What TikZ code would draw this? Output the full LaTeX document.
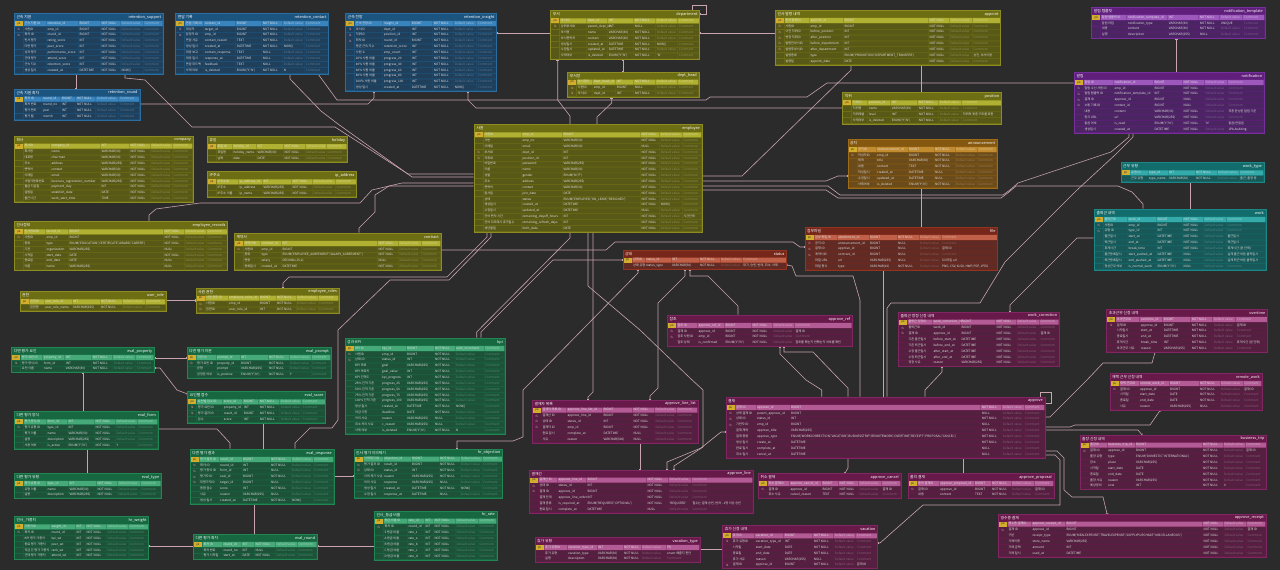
\documentclass[tikz,border=0pt]{standalone}
\usepackage{fontspec}
\newfontfamily\kr{Noto Sans CJK KR}
\usetikzlibrary{calc,fit,arrows.meta}
\pgfdeclarelayer{bgl}\pgfdeclarelayer{conn}\pgfdeclarelayer{tbg}
\pgfsetlayers{bgl,conn,tbg,main}
\definecolor{bgc}{HTML}{2B2B2B}
\definecolor{connc}{HTML}{C9A3AE}
\definecolor{rowtext}{HTML}{E2E2E2}
\definecolor{pkgold}{HTML}{D2AE2C}
\definecolor{fkpink}{HTML}{E595AC}
\definecolor{blueBG}{HTML}{1C5480}\definecolor{blueCL}{HTML}{203F5B}\definecolor{bluePK}{HTML}{3A84BD}\definecolor{blueLN}{HTML}{2B6D9E}\definecolor{bluePH}{HTML}{557A98}
\definecolor{oliveBG}{HTML}{6D6D13}\definecolor{oliveCL}{HTML}{595917}\definecolor{olivePK}{HTML}{B0B032}\definecolor{oliveLN}{HTML}{8C8C22}\definecolor{olivePH}{HTML}{8E8E4E}
\definecolor{orangeBG}{HTML}{85580F}\definecolor{orangeCL}{HTML}{6C4B1B}\definecolor{orangePK}{HTML}{C28B2F}\definecolor{orangeLN}{HTML}{9E6B18}\definecolor{orangePH}{HTML}{9E7E4E}
\definecolor{redBG}{HTML}{76271A}\definecolor{redCL}{HTML}{5F2B24}\definecolor{redPK}{HTML}{C06048}\definecolor{redLN}{HTML}{913522}\definecolor{redPH}{HTML}{935C52}
\definecolor{purpleBG}{HTML}{5F1F7B}\definecolor{purpleCL}{HTML}{4B2462}\definecolor{purplePK}{HTML}{9C58BB}\definecolor{purpleLN}{HTML}{76309E}\definecolor{purplePH}{HTML}{7F5C95}
\definecolor{tealBG}{HTML}{126C6C}\definecolor{tealCL}{HTML}{195858}\definecolor{tealPK}{HTML}{34AAAA}\definecolor{tealLN}{HTML}{1D8787}\definecolor{tealPH}{HTML}{4F8C8C}
\definecolor{greenBG}{HTML}{176741}\definecolor{greenCL}{HTML}{1D5239}\definecolor{greenPK}{HTML}{45A978}\definecolor{greenLN}{HTML}{228654}\definecolor{greenPH}{HTML}{4E8D6C}
\definecolor{magentaBG}{HTML}{67194A}\definecolor{magentaCL}{HTML}{53213F}\definecolor{magentaPK}{HTML}{B25B95}\definecolor{magentaLN}{HTML}{812662}\definecolor{magentaPH}{HTML}{8E5C7A}
\tikzset{
 ttl/.style={inner sep=0pt, text=white, font=\kr\fontsize{3.8}{4.2}\selectfont},
 txt/.style={inner sep=0pt, text=rowtext, text height=2.3pt, text depth=0.6pt, font=\kr\fontsize{3.1}{3.5}\selectfont},
 keyt/.style={inner sep=0pt, text=black!80, font=\kr\fontsize{2.8}{3}\selectfont},
 fkt/.style={inner sep=0pt, text=fkpink, font=\kr\fontsize{2.8}{3}\selectfont},
 conn/.style={draw=connc, line width=0.6pt, arrows={Bar[width=2.6pt,line width=0.5pt]-Bar[width=2.6pt,line width=0.5pt]}},
}
\def\pkk{P}\def\fkk{F}
\def\NN{NOT NULL}\def\NL{NULL}
\newcommand\ADDX[3]{\pgfmathsetmacro\tmpa{#2+#3}\xdef#1{\tmpa}}
\def\PARSEW#1,#2,#3,#4,#5,#6\relax{%
 \ADDX\Xa{\Tx}{9}\ADDX\Xb{\Xa}{#1}\ADDX\Xc{\Xb}{#2}\ADDX\Xd{\Xc}{#3}%
 \ADDX\Xe{\Xd}{#4}\ADDX\Xf{\Xe}{#5}\ADDX\Xg{\Xf}{#6}}
\newcommand\PH[2]{\if\relax\detokenize{#1}\relax\textcolor{PHC}{#2}\else #1\fi}
\newcommand\TBL[7]{%
 \xdef\Tx{#2}\xdef\Ty{#3}\xdef\Tn{#7}%
 \colorlet{CBG}{#1BG}\colorlet{CCL}{#1CL}\colorlet{CPK}{#1PK}\colorlet{CLN}{#1LN}\colorlet{CPH}{#1PH}%
 \PARSEW#4\relax
 \ADDX\Cy{#3}{7.2}%
 \node[ttl,anchor=west] at (\Tx+2,\Ty+3.7) {#5};
 \node[ttl,anchor=east] at (\Xg-2,\Ty+3.7) {#6};
}
\newcommand\ROW[7]{%
 \pgfmathsetmacro\Ny{\Cy+5.85}%
 \pgfmathsetmacro\My{\Cy+2.925}%
 \def\rk{#1}%
 \ifx\rk\pkk\colorlet{CC}{CPK}\colorlet{PHC}{CPK!50!white}\else\colorlet{CC}{CCL}\colorlet{PHC}{CPH}\fi
 \fill[CC] (\Xa+0.25,\Cy+0.35) rectangle (\Xb-0.25,\Ny-0.35)
   (\Xb+0.25,\Cy+0.35) rectangle (\Xc-0.25,\Ny-0.35)
   (\Xc+0.25,\Cy+0.35) rectangle (\Xd-0.25,\Ny-0.35)
   (\Xd+0.25,\Cy+0.35) rectangle (\Xe-0.25,\Ny-0.35)
   (\Xe+0.25,\Cy+0.35) rectangle (\Xf-0.25,\Ny-0.35)
   (\Xf+0.25,\Cy+0.35) rectangle (\Xg-0.6,\Ny-0.35);
 \ifx\rk\pkk
   \fill[pkgold] (\Tx+0.6,\Cy+0.35) rectangle (\Xa-0.25,\Ny-0.35);
   \node[keyt] at (\Tx+4.6,\My) {pk};
 \else
   \fill[CC] (\Tx+0.6,\Cy+0.35) rectangle (\Xa-0.25,\Ny-0.35);
   \ifx\rk\fkk \node[fkt] at (\Tx+4.6,\My) {fk};\fi
 \fi
 \node[txt,anchor=west] at (\Xa+1,\My) {#2};
 \node[txt,anchor=west] at (\Xb+1,\My) {#3};
 \node[txt,anchor=west] at (\Xc+1,\My) {#4};
 \node[txt,anchor=west] at (\Xd+1,\My) {#5};
 \node[txt,anchor=west] at (\Xe+1,\My) {\PH{#6}{Default value}};
 \node[txt,anchor=west] at (\Xf+1,\My) {\PH{#7}{Comment}};
 \xdef\Cy{\Ny}%
}
\newcommand\TEND{%
 \pgfmathsetmacro\Ny{\Cy+0.6}%
 \begin{pgfonlayer}{tbg}\fill[CBG] (\Tx,\Ty) rectangle (\Xg,\Ny);\end{pgfonlayer}
 \draw[CLN,line width=0.5pt] (\Tx,\Ty) rectangle (\Xg,\Ny);
 \coordinate (\Tn-nw) at (\Tx,\Ty);
 \coordinate (\Tn-se) at (\Xg,\Ny);
 \node[fit=(\Tn-nw)(\Tn-se),inner sep=0pt] (\Tn) {};
}
\begin{document}
\catcode`\_=12
\begin{tikzpicture}[x=1pt,y=-1pt]
\useasboundingbox (0,0) rectangle (1280,570);
\begin{pgfonlayer}{bgl}\fill[bgc] (0,0) rectangle (1280,570);\end{pgfonlayer}
% ---------------- blue
\TBL{blue}{14.3}{13.3}{23,32,22,20,23,20}{근속 지원}{retention_support}{rs}
\ROW{P}{근속 지원 ID}{retention_id}{BIGINT}{\NN}{}{}
\ROW{F}{사원ID}{emp_id}{BIGINT}{\NN}{}{}
\ROW{F}{회차 ID}{round_id}{BIGINT}{\NN}{}{}
\ROW{}{인사 평가}{rating_score}{INT}{\NN}{}{}
\ROW{}{다면 평가}{peer_score}{INT}{\NN}{}{}
\ROW{}{성과 평가}{performance_score}{INT}{\NN}{}{}
\ROW{}{근태 평가}{attend_score}{INT}{\NN}{}{}
\ROW{}{근속 지수}{retention_score}{INT}{\NN}{}{}
\ROW{}{생성 일시}{created_at}{DATETIME}{\NN}{NOW()}{}
\TEND
\TBL{blue}{175.7}{13.3}{19,32,26,21,22,24}{면담 기록}{retention_contact}{rc}
\ROW{P}{면담 기록 ID}{contact_id}{BIGINT}{\NN}{}{}
\ROW{F}{대상자}{target_id}{BIGINT}{\NN}{}{}
\ROW{F}{담당자 ID}{emp_id}{BIGINT}{\NN}{}{}
\ROW{}{면담 사유}{contact_reason}{TEXT}{\NN}{}{}
\ROW{}{생성 일시}{created_at}{DATETIME}{\NN}{NOW()}{}
\ROW{}{대응 보고}{contact_response}{TEXT}{\NL}{}{}
\ROW{}{대응 일시}{response_at}{DATETIME}{\NL}{}{}
\ROW{}{면담 피드백}{feedback}{TEXT}{\NL}{}{}
\ROW{}{삭제 여부}{is_deleted}{ENUM('Y','N')}{\NN}{N}{}
\TEND
\TBL{blue}{345.7}{13.3}{28,28,22,21,23,20}{근속 전망}{retention_insight}{ri}
\ROW{P}{근속 전망 ID}{insight_id}{BIGINT}{\NN}{}{}
\ROW{F}{부서ID}{dept_id}{INT}{\NN}{}{}
\ROW{F}{직위ID}{position_id}{INT}{\NN}{}{}
\ROW{F}{회차 ID}{round_id}{BIGINT}{\NN}{}{}
\ROW{}{평균 근속 지수}{retention_score}{INT}{\NN}{}{}
\ROW{}{사원 수}{emp_count}{INT}{\NN}{}{}
\ROW{}{20\% 사원 비율}{progress_20}{INT}{\NN}{}{}
\ROW{}{40\% 사원 비율}{progress_40}{INT}{\NN}{}{}
\ROW{}{60\% 사원 비율}{progress_60}{INT}{\NN}{}{}
\ROW{}{80\% 사원 비율}{progress_80}{INT}{\NN}{}{}
\ROW{}{100\% 사원 비율}{progress_100}{INT}{\NN}{}{}
\ROW{}{생성 일시}{created_at}{DATETIME}{\NN}{NOW()}{}
\TEND
\TBL{blue}{14.3}{89}{18.5,19,15,20,23,21}{근속 지원 회차}{retention_round}{rr}
\ROW{P}{회차 ID}{round_id}{BIGINT}{\NN}{}{}
\ROW{}{회차 번호}{round_no}{INT}{\NN}{}{}
\ROW{}{평가 연도}{year}{INT}{\NN}{}{}
\ROW{}{평가 월}{month}{INT}{\NN}{}{}
\TEND
% ---------------- olive
\TBL{olive}{14.3}{136}{27,50,29,21,22,20.7}{회사}{company}{co}
\ROW{P}{회사ID}{company_id}{INT}{\NN}{}{}
\ROW{}{회사명}{name}{VARCHAR(30)}{\NN}{}{}
\ROW{}{대표명}{chairman}{VARCHAR(30)}{\NN}{}{}
\ROW{}{주소}{address}{VARCHAR(255)}{\NN}{}{}
\ROW{}{연락처}{contact}{VARCHAR(30)}{\NN}{}{}
\ROW{}{이메일}{email}{VARCHAR(30)}{\NN}{}{}
\ROW{}{사업자등록번호}{business_registration_number}{VARCHAR(255)}{\NN}{}{}
\ROW{}{월급 지급일}{payment_day}{INT}{\NN}{}{}
\ROW{}{설립일}{establish_date}{DATE}{\NN}{}{}
\ROW{}{출근시간}{work_start_time}{TIME}{\NN}{}{}
\TEND
\TBL{olive}{207.3}{136.5}{16,24,27,22,21,21}{휴일}{holiday}{ho}
\ROW{P}{휴일 ID}{holiday_id}{INT}{\NN}{}{}
\ROW{}{휴일명}{holiday_name}{VARCHAR(30)}{\NN}{}{}
\ROW{}{날짜}{date}{DATE}{\NN}{}{}
\TEND
\TBL{olive}{207.3}{171.7}{22,24,29,21,23,21.4}{IP주소}{ip_address}{ip}
\ROW{P}{IP주소ID}{ip_address_id}{INT}{\NN}{}{}
\ROW{}{IP주소}{ip_address}{VARCHAR(255)}{\NN}{}{}
\ROW{}{IP주소 이름}{ip_name}{VARCHAR(255)}{\NN}{}{}
\TEND
\TBL{olive}{14.3}{221.7}{22,23,95,21,22,21.4}{인사정보}{employee_records}{er}
\ROW{P}{인사정보ID}{record_id}{BIGINT}{\NN}{}{}
\ROW{F}{사원ID}{emp_id}{BIGINT}{\NN}{}{}
\ROW{}{종류}{type}{ENUM('EDUCATION','CERTIFICATE','AWARD','CAREER')}{\NN}{}{}
\ROW{}{기관}{organization}{VARCHAR(255)}{\NL}{}{}
\ROW{}{시작일}{start_date}{DATE}{\NN}{}{}
\ROW{}{종료일}{end_date}{DATE}{\NL}{}{}
\ROW{}{이름}{name}{VARCHAR(255)}{\NL}{}{}
\TEND
\TBL{olive}{234.3}{233.3}{17,21,96,21,23,19.7}{계약서}{contract}{ct}
\ROW{P}{계약서ID}{contract_id}{INT}{\NN}{}{}
\ROW{F}{사원ID}{emp_id}{BIGINT}{\NN}{}{}
\ROW{}{종류}{type}{ENUM('EMPLOYEE_AGREEMENT','SALARY_AGREEMENT')}{\NN}{}{}
\ROW{}{연봉}{salary}{DECIMAL(15,2)}{\NL}{}{}
\ROW{}{등록일시}{created_at}{DATETIME}{\NN}{}{}
\TEND
\TBL{olive}{20}{291.7}{15,28,28,22,23,21}{권한}{user_role}{ur}
\ROW{P}{권한ID}{user_role_id}{INT}{\NN}{}{}
\ROW{}{권한명}{user_role_name}{VARCHAR(255)}{\NN}{}{}
\TEND
\TBL{olive}{196}{288}{23,31,17,20,22,21}{사원 권한}{employee_roles}{eo}
\ROW{P}{사원 권한 ID}{employee_roles_id}{BIGINT}{\NN}{}{}
\ROW{F}{사원ID}{emp_id}{BIGINT}{\NN}{}{}
\ROW{F}{권한ID}{user_role_id}{INT}{\NN}{}{}
\TEND
\TBL{olive}{550.7}{10.7}{27,21,26,22,22,22}{부서}{department}{de}
\ROW{P}{부서ID}{dept_id}{INT}{\NN}{}{}
\ROW{F}{상위부서ID}{parent_dept_id}{INT}{\NL}{}{}
\ROW{}{부서명}{name}{VARCHAR(30)}{\NN}{}{}
\ROW{}{부서연락처}{contact}{VARCHAR(30)}{\NN}{}{}
\ROW{}{생성일시}{created_at}{DATETIME}{\NN}{NOW()}{}
\ROW{}{수정일시}{updated_at}{DATETIME}{\NN}{}{}
\ROW{}{삭제여부}{is_deleted}{ENUM('Y','N')}{\NN}{'N'}{}
\TEND
\TBL{olive}{567.7}{72}{16,23,18,22,22,21.3}{부서장}{dept_head}{dh}
\ROW{P}{부서장ID}{dept_head_id}{INT}{\NN}{}{}
\ROW{F}{사원ID}{emp_id}{BIGINT}{\NL}{}{}
\ROW{F}{부서ID}{dept_id}{INT}{\NN}{}{}
\TEND
\TBL{olive}{775.3}{10.3}{25,34,85,21,23,28.4}{인사 발령 내역}{appoint}{ap}
\ROW{P}{인사 발령ID}{appoint_id}{BIGINT}{\NN}{}{}
\ROW{F}{사원ID}{emp_id}{BIGINT}{\NN}{}{}
\ROW{F}{이전 직위ID}{before_position}{INT}{\NN}{}{}
\ROW{F}{변경 직위ID}{after_position}{INT}{\NN}{}{}
\ROW{F}{발령전부서ID}{before_department}{INT}{\NN}{}{}
\ROW{F}{발령후부서ID}{after_department}{INT}{\NN}{}{}
\ROW{}{발령종류}{type}{ENUM('PROMOTION','DEPARTMENT_TRANSFER')}{\NN}{}{승진, 부서이동}
\ROW{}{발령일}{appoint_date}{DATE}{\NN}{}{}
\TEND
\TBL{olive}{842.7}{92.7}{16,23,27,21,23,39.7}{직위}{position}{po}
\ROW{P}{직위ID}{position_id}{INT}{\NN}{}{}
\ROW{}{직위명}{name}{VARCHAR(30)}{\NN}{}{}
\ROW{}{직위레벨}{level}{INT}{\NN}{}{직위의 계층 구조를 표현}
\ROW{}{삭제여부}{is_deleted}{ENUM('Y','N')}{\NN}{}{}
\TEND
\TBL{olive}{474.3}{124.7}{38,41,78,19.3,22.7,19.7}{사원}{employee}{em}
\ROW{P}{사원ID}{emp_id}{BIGINT}{\NN}{}{}
\ROW{}{사번}{emp_no}{VARCHAR(30)}{\NN}{}{}
\ROW{}{이메일}{email}{VARCHAR(30)}{\NL}{}{}
\ROW{F}{부서ID}{dept_id}{INT}{\NN}{}{}
\ROW{F}{직위ID}{position_id}{INT}{\NN}{}{}
\ROW{}{비밀번호}{password}{VARCHAR(255)}{\NN}{}{}
\ROW{}{이름}{name}{VARCHAR(30)}{\NN}{}{}
\ROW{}{성별}{gender}{ENUM('M','F')}{\NN}{}{}
\ROW{}{주소}{address}{VARCHAR(255)}{\NN}{}{}
\ROW{}{연락처}{contact}{VARCHAR(30)}{\NN}{}{}
\ROW{}{입사일}{join_date}{DATE}{\NN}{}{}
\ROW{}{상태}{status}{ENUM('EMPLOYED','ON_LEAVE','RESIGNED')}{\NN}{}{}
\ROW{}{생성일시}{created_at}{DATETIME}{\NN}{NOW()}{}
\ROW{}{수정일시}{updated_at}{DATETIME}{\NL}{}{}
\ROW{}{잔여 연차 시간}{remaining_dayoff_hours}{INT}{\NN}{}{시간단위}
\ROW{}{잔여 리프레시 휴가일수}{remaining_refresh_days}{INT}{\NN}{}{}
\ROW{}{생년월일}{birth_date}{DATE}{\NN}{}{}
\TEND
% ---------------- orange / red
\TBL{orange}{848}{139.3}{19,32,26,21,22.3,20}{공지}{announcement}{an}
\ROW{P}{공지ID}{announcement_id}{BIGINT}{\NN}{}{}
\ROW{F}{작성자ID}{emp_id}{BIGINT}{\NN}{}{}
\ROW{}{제목}{title}{VARCHAR(30)}{\NN}{}{}
\ROW{}{내용}{content}{TEXT}{\NN}{}{}
\ROW{}{작성일시}{created_at}{DATETIME}{\NL}{}{}
\ROW{}{수정일시}{updated_at}{DATETIME}{\NL}{}{}
\ROW{}{삭제여부}{is_deleted}{ENUM('Y','N')}{\NN}{}{}
\TEND
\TBL{red}{805}{227.3}{23,32,28,22,22,56.7}{첨부파일}{file}{fi}
\ROW{P}{첨부 파일 ID}{attachment_id}{BIGINT}{\NN}{}{}
\ROW{F}{공지 ID}{announcement_id}{BIGINT}{\NL}{}{}
\ROW{F}{결재 ID}{approve_id}{BIGINT}{\NL}{}{결재 ID}
\ROW{F}{계약서ID}{contract_id}{BIGINT}{\NL}{}{}
\ROW{}{파일 URL}{url}{VARCHAR(255)}{\NL}{}{S3 파일 url}
\ROW{}{파일 형식}{type}{VARCHAR(10)}{\NN}{}{PNG, CSV, XLSX, HWP, PDF, JPEG}
\TEND
\TBL{red}{623}{250}{13,26,28,21,22,44.7}{상태}{status}{st}
\ROW{P}{상태ID}{status_id}{INT}{\NN}{}{}
\ROW{}{상태 유형}{status_type}{VARCHAR(30)}{\NN}{}{대기, 승인, 반려, 취소, 삭제}
\TEND
% ---------------- purple / teal
\TBL{purple}{1091.7}{7.3}{26,41,31,21,23,22.3}{알림 템플릿}{notification_template}{nt}
\ROW{P}{알림 템플릿 ID}{notification_template_id}{INT}{\NN}{}{}
\ROW{}{알림 타입}{notification_type}{VARCHAR(30)}{\NN}{UNIQUE}{}
\ROW{}{내용}{content}{VARCHAR(30)}{\NN}{}{}
\ROW{}{설명}{description}{VARCHAR(255)}{\NL}{}{}
\TEND
\TBL{purple}{1074.3}{72.3}{30,40,29,22,23,37}{알림}{notification}{no}
\ROW{P}{알림 ID}{notification_id}{BIGINT}{\NN}{}{}
\ROW{F}{알림 수신 사원 ID}{emp_id}{BIGINT}{\NN}{}{}
\ROW{F}{알림 템플릿 ID}{notification_template_id}{INT}{\NN}{}{}
\ROW{F}{결재 ID}{approve_id}{BIGINT}{\NL}{}{}
\ROW{F}{소통 기록 ID}{contact_id}{BIGINT}{\NL}{}{}
\ROW{}{내용}{content}{VARCHAR(30)}{\NN}{}{최종 완성된 알림 기준}
\ROW{}{링크 URL}{url}{VARCHAR(255)}{\NN}{}{}
\ROW{}{읽음 여부}{is_read}{ENUM('Y','N')}{\NN}{'N'}{읽음/안읽음}
\ROW{}{생성일시}{created_at}{DATETIME}{\NN}{}{JPA Auditing}
\TEND
\TBL{teal}{1121}{162.7}{18,20,27,22,22,25}{근무 유형}{work_type}{wt}
\ROW{P}{유형 ID}{type_id}{INT}{\NN}{}{}
\ROW{}{근무 유형}{type_name}{VARCHAR(30)}{\NN}{}{출근, 출장 등}
\TEND
\TBL{teal}{1094.3}{209.3}{24,29,26,21,23,39.7}{출퇴근 내역}{work}{wk}
\ROW{P}{출퇴근ID}{work_id}{BIGINT}{\NN}{}{}
\ROW{F}{사원ID}{emp_id}{BIGINT}{\NN}{}{}
\ROW{F}{유형 ID}{type_id}{INT}{\NN}{}{}
\ROW{}{출근일시}{start_at}{DATETIME}{\NN}{}{출근일시}
\ROW{}{퇴근일시}{end_at}{DATETIME}{\NN}{}{퇴근일시}
\ROW{}{휴게시간}{break_time}{INT}{\NN}{}{휴게시간 (분 단위)}
\ROW{}{출근등록일시}{start_pushed_at}{DATETIME}{\NL}{}{실제 출근 버튼 클릭일시}
\ROW{}{퇴근등록일시}{end_pushed_at}{DATETIME}{\NL}{}{실제 퇴근 버튼 클릭일시}
\ROW{}{정상근무 여부}{is_normal_work}{ENUM('Y','N')}{\NL}{}{}
\TEND
% ---------------- magenta
\TBL{magenta}{667.3}{315.3}{21,27,27,21,22,58}{참조}{approve_ref}{ar}
\ROW{P}{참조 ID}{approve_ref_id}{BIGINT}{\NN}{}{}
\ROW{F}{결재 ID}{approve_id}{BIGINT}{\NN}{}{결재 ID}
\ROW{F}{참조 사원 ID}{emp_id}{BIGINT}{\NN}{}{}
\ROW{}{참조 상태}{is_confirmed}{ENUM('Y','N')}{\NN}{}{참조를 했는지 안했는지 여부를 확인}
\TEND
\TBL{magenta}{898.3}{312}{25,28,35,21,23,20}{출퇴근 정정 신청 내역}{work_correction}{wc}
\ROW{P}{출퇴근 정정ID}{work_correction_id}{BIGINT}{\NN}{}{}
\ROW{F}{출퇴근ID}{work_id}{BIGINT}{\NN}{}{}
\ROW{F}{결재 ID}{approve_id}{BIGINT}{\NN}{}{결재 ID}
\ROW{}{기존 출근일시}{before_start_at}{DATETIME}{\NN}{}{}
\ROW{}{기존 퇴근일시}{before_end_at}{DATETIME}{\NN}{}{}
\ROW{}{수정 출근일시}{after_start_at}{DATETIME}{\NN}{}{}
\ROW{}{수정 퇴근일시}{after_end_at}{DATETIME}{\NN}{}{}
\ROW{}{정정 사유}{reason}{VARCHAR(255)}{\NN}{}{}
\TEND
\TBL{magenta}{1106.7}{309.3}{24,23,28,22,23,31.7}{초과근무 신청 내역}{overtime}{ov}
\ROW{P}{초과근무ID}{overtime_id}{BIGINT}{\NN}{}{}
\ROW{F}{결재 ID}{approve_id}{BIGINT}{\NN}{}{결재 ID}
\ROW{}{시작일시}{start_at}{DATETIME}{\NN}{}{}
\ROW{}{종료일시}{end_at}{DATETIME}{\NN}{}{}
\ROW{}{휴게시간}{break_time}{INT}{\NN}{}{휴게시간 (분 단위)}
\ROW{}{초과근무 사유}{reason}{VARCHAR(255)}{\NN}{}{}
\TEND
\TBL{magenta}{1110}{373.3}{20,30,30,21,23,19}{재택 근무 신청 내역}{remote_work}{rw}
\ROW{P}{재택 근무ID}{remote_work_id}{BIGINT}{\NN}{}{}
\ROW{F}{결재 ID}{approve_id}{BIGINT}{\NN}{}{결재 ID}
\ROW{}{시작일}{start_date}{DATE}{\NN}{}{}
\ROW{}{종료일}{end_date}{DATE}{\NN}{}{}
\ROW{}{사유}{reason}{VARCHAR(255)}{\NL}{}{}
\TEND
\TBL{magenta}{1080}{435}{18,28,67,21,22,21.7}{출장 신청 내역}{business_trip}{bt}
\ROW{P}{출장ID}{business_trip_id}{BIGINT}{\NN}{}{}
\ROW{F}{결재 ID}{approve_id}{BIGINT}{\NN}{}{결재 ID}
\ROW{}{출장 유형}{type}{ENUM('DOMESTIC','INTERNATIONAL')}{\NN}{}{}
\ROW{}{장소}{place}{VARCHAR(255)}{\NN}{}{}
\ROW{}{시작일}{start_date}{DATE}{\NN}{}{}
\ROW{}{종료일}{end_date}{DATE}{\NN}{}{}
\ROW{}{출장 사유}{reason}{VARCHAR(255)}{\NN}{}{}
\ROW{}{예상경비}{cost}{INT}{\NN}{0}{}
\TEND
\TBL{magenta}{998.3}{514}{24,34,137,21,23,19.7}{영수증 결재}{approve_receipt}{rp}
\ROW{P}{영수증 결재ID}{approve_receipt_id}{BIGINT}{\NN}{}{}
\ROW{F}{결재 ID}{approve_id}{BIGINT}{\NN}{}{결재 ID}
\ROW{}{구분}{receipt_type}{ENUM('MEALEXPENSE','TRAVELEXPENSE','SUPPLYPURCHASE','MISCELLANEOUS')}{\NN}{}{}
\ROW{}{거래처명}{store_name}{VARCHAR(255)}{\NN}{}{}
\ROW{}{거래 금액}{amount}{INT}{\NN}{}{}
\ROW{}{거래 일시}{used_at}{DATETIME}{\NN}{}{}
\TEND
\TBL{magenta}{726}{397.3}{21,34,190.7,21,22.3,21}{결재}{approve}{av}
\ROW{P}{결재 ID}{approve_id}{BIGINT}{\NN}{}{}
\ROW{F}{상위 결재 ID}{parent_approve_id}{BIGINT}{\NL}{}{}
\ROW{F}{상태 ID}{status_id}{INT}{\NN}{}{}
\ROW{F}{기안자 ID}{emp_id}{BIGINT}{\NL}{}{}
\ROW{}{결재 제목}{approve_title}{VARCHAR(255)}{\NN}{}{}
\ROW{}{결재 종류}{approve_type}{ENUM('WORKCORRECTION','VACATION','BUSINESSTRIP','REMOTEWORK','OVERTIME','RECEIPT','PROPOSAL','CANCEL')}{\NN}{}{}
\ROW{}{생성 일시}{create_at}{DATETIME}{\NN}{}{}
\ROW{}{완료 일시}{complete_at}{DATETIME}{\NL}{}{}
\ROW{}{취소 일시}{cancel_at}{DATETIME}{\NL}{}{}
\TEND
\TBL{magenta}{758.3}{473.3}{22,32,17,20,23,19.7}{취소 결재}{approve_cancel}{ac}
\ROW{P}{취소 결재ID}{approve_cancel_id}{BIGINT}{\NN}{}{}
\ROW{F}{결재 ID}{approve_id}{BIGINT}{\NN}{}{결재 ID}
\ROW{}{취소 사유}{cancel_reason}{TEXT}{\NN}{}{}
\TEND
\TBL{magenta}{908}{473.3}{22,35,17,20,23,20}{품의 결재}{approve_proposal}{pp}
\ROW{P}{품의 결재ID}{approve_proposal_id}{BIGINT}{\NN}{}{}
\ROW{F}{결재 ID}{approve_id}{BIGINT}{\NN}{}{결재 ID}
\ROW{}{내용}{content}{TEXT}{\NN}{}{}
\TEND
\TBL{magenta}{532.3}{400}{25,36,30,22,22,21.7}{결재자 목록}{approve_line_list}{al}
\ROW{P}{결재자 목록 ID}{approve_line_list_id}{BIGINT}{\NN}{}{}
\ROW{F}{결재선 ID}{approve_line_id}{BIGINT}{\NN}{}{}
\ROW{F}{상태 ID}{status_id}{INT}{\NN}{}{}
\ROW{F}{결재자 ID}{emp_id}{BIGINT}{\NN}{}{}
\ROW{}{완료 일시}{complete_at}{DATETIME}{\NL}{}{}
\ROW{}{사유}{reason}{VARCHAR(500)}{\NL}{}{}
\TEND
\TBL{magenta}{529.3}{470}{19,29,60,22,23,61.7}{결재선}{approve_line}{ln}
\ROW{P}{결재선 ID}{approve_line_id}{BIGINT}{\NN}{}{}
\ROW{F}{상태 ID}{status_id}{INT}{\NN}{}{}
\ROW{F}{결재 ID}{approve_id}{BIGINT}{\NN}{}{}
\ROW{}{결재 단계}{approve_line_order}{INT}{\NN}{}{}
\ROW{}{결재 종류}{is_required_at}{ENUM('REQUIRED','OPTIONAL')}{\NN}{'REQUIRED'}{필수는 결재 승인, 반려 - 1명 이상 승인}
\ROW{}{완료 일시}{complete_at}{DATETIME}{\NL}{}{}
\TEND
\TBL{magenta}{535}{537.3}{23,30,26,18,25,34}{휴가 유형}{vacation_type}{vt}
\ROW{P}{휴가 유형ID}{vacation_type_id}{INT}{\NN}{}{PK}
\ROW{}{휴가 유형}{vacation_type}{VARCHAR(30)}{\NN}{}{enum 해줄지 판단}
\ROW{}{설명}{description}{VARCHAR(30)}{\NN}{}{}
\TEND
\TBL{magenta}{722.7}{525.7}{23,29,29,21,22,22}{휴가 신청 내역}{vacation}{va}
\ROW{P}{휴가ID}{vacation_id}{BIGINT}{\NN}{}{}
\ROW{F}{휴가 유형ID}{vacation_type_id}{INT}{\NN}{}{}
\ROW{}{시작일}{start_date}{DATE}{\NN}{}{}
\ROW{}{종료일}{end_date}{DATE}{\NN}{}{}
\ROW{}{휴가 사유}{reason}{VARCHAR(255)}{\NL}{}{}
\ROW{F}{결재 ID}{approve_id}{BIGINT}{\NN}{}{결재 ID}
\TEND
% ---------------- green
\TBL{green}{345}{338.3}{27,25,28,21,29,21}{성과 KPI}{kpi}{kp}
\ROW{P}{KPI ID}{kpi_id}{BIGINT}{\NN}{auto_increment}{}
\ROW{F}{사원ID}{emp_id}{BIGINT}{\NN}{}{}
\ROW{F}{상태 ID}{status_id}{INT}{\NN}{}{}
\ROW{}{KPI 목표}{goal}{VARCHAR(255)}{\NN}{}{}
\ROW{}{KPI 목표치}{goal_value}{INT}{\NN}{}{}
\ROW{}{KPI 진척도}{kpi_progress}{INT}{\NN}{}{}
\ROW{}{25\% 진척 기준}{progress_25}{VARCHAR(255)}{\NN}{}{}
\ROW{}{50\% 진척 기준}{progress_50}{VARCHAR(255)}{\NN}{}{}
\ROW{}{75\% 진척 기준}{progress_75}{VARCHAR(255)}{\NN}{}{}
\ROW{}{100\% 진척 기준}{progress_100}{VARCHAR(255)}{\NN}{}{}
\ROW{}{생성 일시}{created_at}{DATETIME}{\NN}{NOW()}{}
\ROW{}{마감 기한}{deadline}{DATE}{\NN}{}{}
\ROW{}{처리 사유}{reason}{VARCHAR(255)}{\NL}{}{}
\ROW{}{취소 처리 사유}{c_reason}{VARCHAR(255)}{\NL}{}{}
\ROW{}{삭제 여부}{is_deleted}{ENUM('Y','N')}{\NN}{N}{}
\TEND
\TBL{green}{11.7}{347.3}{22,22,27,21,23,18.6}{다면 평가 요인}{eval_property}{ep}
\ROW{P}{평가 요인 ID}{property_id}{INT}{\NN}{}{}
\ROW{F}{평가 양식 ID}{form_id}{INT}{\NN}{}{}
\ROW{}{요인 이름}{name}{VARCHAR(30)}{\NN}{}{}
\TEND
\TBL{green}{187}{347.3}{20,24,28,21,22,20}{다면 평가 지문}{eval_prompt}{eq}
\ROW{P}{지문 ID}{prompt_id}{INT}{\NN}{}{}
\ROW{F}{평가 요인 ID}{property_id}{BIGINT}{\NN}{}{}
\ROW{}{문항}{prompt}{VARCHAR(255)}{\NN}{}{}
\ROW{}{긍정문 여부}{is_positive}{ENUM('Y','N')}{\NN}{Y}{}
\TEND
\TBL{green}{187.7}{391.7}{26,20,16,21,22,24}{요인별 점수}{eval_score}{es}
\ROW{P}{요인별 점수 ID}{score_id}{BIGINT}{\NN}{}{}
\ROW{F}{평가 요인 ID}{property_id}{INT}{\NN}{}{}
\ROW{F}{평가 결과 ID}{result_id}{BIGINT}{\NN}{}{}
\ROW{}{점수}{score}{INT}{\NN}{}{}
\TEND
\TBL{green}{14.3}{411.7}{23,21,27,21,22,20.7}{다면 평가 양식}{eval_form}{ef}
\ROW{P}{평가 양식 ID}{form_id}{INT}{\NN}{}{}
\ROW{F}{평가 유형 ID}{type_id}{INT}{\NN}{}{}
\ROW{}{평가 이름}{name}{VARCHAR(30)}{\NN}{}{}
\ROW{}{설명}{description}{VARCHAR(255)}{\NN}{}{}
\ROW{}{사용 여부}{is_active}{ENUM('Y','N')}{\NN}{Y}{}
\TEND
\TBL{green}{14.3}{473.3}{23,22,28,21,23,21}{다면 평가 유형}{eval_type}{et}
\ROW{P}{평가 유형 ID}{type_id}{INT}{\NN}{}{}
\ROW{}{유형 이름}{name}{VARCHAR(30)}{\NN}{}{}
\ROW{}{설명}{description}{VARCHAR(255)}{\NN}{}{}
\TEND
\TBL{green}{190}{449.3}{20,23,28,21,22,21}{다면 평가 결과}{eval_response}{ev}
\ROW{P}{평가 결과 ID}{result_id}{BIGINT}{\NN}{}{}
\ROW{F}{회차 ID}{round_id}{INT}{\NN}{}{}
\ROW{F}{평가 양식 ID}{form_id}{INT}{\NL}{}{}
\ROW{F}{평가자 ID}{eval_id}{BIGINT}{\NN}{}{}
\ROW{F}{피평가자ID}{target_id}{BIGINT}{\NL}{}{}
\ROW{}{종합 점수}{score}{INT}{\NN}{}{}
\ROW{}{사유}{reason}{VARCHAR(255)}{\NL}{}{}
\ROW{}{생성 일시}{created_at}{DATETIME}{\NN}{NOW()}{}
\TEND
\TBL{green}{14.3}{516.7}{27,25,10,21,22,20.4}{인사_가중치}{hr_weight}{hw}
\ROW{P}{가중치ID}{weight_id}{INT}{\NN}{}{}
\ROW{F}{회차 ID}{round_id}{INT}{\NN}{}{}
\ROW{}{KPI 평가 가중치}{kpi_wt}{INT}{\NN}{}{}
\ROW{}{동료 평가 가중치}{peer_wt}{INT}{\NN}{}{}
\ROW{}{직급 간 평가 가중치}{rank_wt}{INT}{\NN}{}{}
\ROW{}{근태 평가 가중치}{attend_wt}{INT}{\NN}{}{}
\TEND
\TBL{green}{193.3}{534.3}{20,19,13,21,22,20}{다면 평가 회차}{eval_round}{ed}
\ROW{P}{회차 ID}{round_id}{INT}{\NN}{}{}
\ROW{}{회차 번호}{round_no}{INT}{\NL}{}{}
\ROW{}{평가 시작일}{start_at}{DATE}{\NN}{}{}
\TEND
\TBL{green}{354}{449}{20,28,28,21,22,20.7}{인사 평가 이의제기}{hr_objection}{hj}
\ROW{P}{이의제기 ID}{objection_id}{BIGINT}{\NN}{}{}
\ROW{F}{평가 결과 ID}{result_id}{BIGINT}{\NN}{}{}
\ROW{F}{상태 ID}{status_id}{INT}{\NN}{}{}
\ROW{}{이의 제기 사유}{reason}{VARCHAR(255)}{\NN}{}{}
\ROW{}{처리 사유}{response}{VARCHAR(255)}{\NL}{}{}
\ROW{}{생성 일시}{created_at}{DATETIME}{\NN}{NOW()}{}
\ROW{}{수정 일시}{response_at}{DATETIME}{\NL}{}{}
\TEND
\TBL{green}{374.3}{511}{24,17,9,22,23,18.7}{인사_등급 비율}{hr_rate}{hr}
\ROW{P}{등급 비율 ID}{rate_id}{INT}{\NN}{}{}
\ROW{F}{회차 ID}{round_id}{INT}{\NN}{}{}
\ROW{}{S 등급 비율}{rate_s}{INT}{\NN}{}{}
\ROW{}{A 등급 비율}{rate_a}{INT}{\NN}{}{}
\ROW{}{B 등급 비율}{rate_b}{INT}{\NN}{}{}
\ROW{}{C 등급 비율}{rate_c}{INT}{\NN}{}{}
\ROW{}{D 등급 비율}{rate_d}{INT}{\NN}{}{}
\TEND
% ---------------- connectors
\begin{pgfonlayer}{conn}
\draw[conn] (76,0 |- rs.south) -- (76,0 |- rr.north);
\draw[conn] (125,0 |- rs.south) -- (125,78) -- (145,80) -- (192,127) -- (335,127) -- (408,174) -- (em.west |- 0,174);
\draw[conn] (290,0 |- rc.south) -- (290,79) -- (321,111) -- (338,124) -- (412,177) -- (em.west |- 0,177);
\draw[conn] (318,0 |- rc.south) -- (337,100) -- (706,100) -- (710,97) -- (807,97) -- (827,83) -- (no.west |- 0,83);
\draw[conn] (rr.east |- 0,104) -- (368,104) -- (374,98) -- (374,0 |- ri.south);
\draw[conn] (468,0 |- ri.south) -- (468,100) -- (476,108) -- (po.west |- 0,108);
\draw[conn] (ri.east |- 0,33) -- (de.west |- 0,33);
\draw[conn] (557.7,0 |- de.south) -- (557.7,100) -- (570,116) -- (570,0 |- em.north);
\draw[conn] (611.7,0 |- dh.south) -- (611.7,103) -- (597,117) -- (597,0 |- em.north);
\draw[conn] (623,0 |- de.south) -- (623,0 |- dh.north);
\draw[conn] (de.east |- 0,33) -- (ap.west |- 0,33);
\draw[conn] (692,0 |- de.north) -- (692,5) -- (706,5) -- (706,14) -- (de.east |- 0,14);
\draw[conn] (921.7,0 |- ap.south) -- (921.7,0 |- po.north);
\draw[conn] (851,0 |- ap.south) -- (851,70) -- (742,176) -- (em.east |- 0,176);
\draw[conn] (em.east |- 0,181) -- (826,181) -- (838,176) -- (an.west |- 0,176);
\draw[conn] (1176.7,0 |- nt.south) -- (1176.7,0 |- no.north);
\draw[conn] (1133,0 |- no.south) -- (1133,137) -- (1115,155) -- (1077,190) -- (1005,262) -- (980,303) -- (891,303) -- (887,308) -- (887,0 |- av.north);
\draw[conn] (1129,0 |- no.south) -- (1129,137) -- (1111,152) -- (1018,183) -- (1010,190) -- (1003,195) -- (840,195) -- (828,186) -- (em.east |- 0,186);
\draw[conn] (921.7,0 |- an.south) -- (921.7,0 |- fi.north);
\draw[conn] (1190,0 |- wt.south) -- (1190,0 |- wk.north);
\draw[conn] (1143,0 |- wk.north) -- (1143,204) -- (1132,192) -- (1118,186) -- (1016,186) -- (1009,192) -- (1001,198) -- (838,198) -- (826,190) -- (em.east |- 0,190);
\draw[conn] (wk.west |- 0,238) -- (1077,238) -- (1010,305) -- (1010,0 |- wc.north);
\draw[conn] (883,0 |- fi.south) -- (883,0 |- av.north);
\draw[conn] (st.east |- 0,265) -- (792,266) -- (796,276) -- (853,276) -- (860,300) -- (860,0 |- av.north);
\draw[conn] (690,0 |- st.south) -- (690,276) -- (708,276) -- (738,306) -- (738,0 |- ar.north);
\draw[conn] (685,0 |- st.south) -- (685,276) -- (658,303) -- (658,388) -- (650,396) -- (650,0 |- al.north);
\draw[conn] (784,0 |- ar.south) -- (784,352) -- (813,352) -- (840,380) -- (848,388) -- (848,0 |- av.north);
\draw[conn] (780,0 |- ar.south) -- (780,354) -- (806,380) -- (821.7,390) -- (821.7,0 |- av.north);
\draw[conn] (476.7,0 |- kp.north) -- (476.7,332) -- (570,238) -- (570,0 |- em.south);
\draw[conn] (481,0 |- kp.north) -- (481,332) -- (553,260) -- (st.west |- 0,260);
\draw[conn] (593,0 |- em.south) -- (593,392) -- (588,397) -- (588,0 |- al.north);
\draw[conn] (588,0 |- em.south) -- (588,286) -- (640,330) -- (690,378) -- (703,390) -- (703,447) -- (674,466) -- (674,0 |- ln.north);
\draw[conn] (640,0 |- al.south) -- (640,0 |- ln.north);
\draw[conn] (667,0 |- ln.north) -- (667,462) -- (701,448) -- (721,432) -- (av.west |- 0,432);
\draw[conn] (848,0 |- av.south) -- (848,468) -- (845,0 |- ac.north);
\draw[conn] (963,0 |- av.south) -- (963,0 |- pp.north);
\draw[conn] (av.east |- 0,427) -- (1070,427) -- (1075,425) -- (1150,425) -- (1160,0 |- rw.south);
\draw[conn] (av.east |- 0,430) -- (1138,430) -- (1142,0 |- bt.north);
\draw[conn] (1155,0 |- ov.south) -- (1152,363) -- (1103,363) -- (1087,380) -- (1050,417) -- (av.east |- 0,417);
\draw[conn] (1040,0 |- av.north) -- (1040,392) -- (1051,392) -- (1051,403) -- (av.east |- 0,403);
\draw[conn] (av.east |- 0,455) -- (1055,455) -- (1060,460) -- (1060,505) -- (923,505) -- (880,543) -- (va.east |- 0,543);
\draw[conn] (av.east |- 0,451) -- (1057,451) -- (1064,458) -- (1064,490) -- (1072,497) -- (1103,497) -- (1107,0 |- rp.north);
\draw[conn] (vt.east |- 0,549) -- (va.west |- 0,549);
\draw[conn] (942,0 |- wc.south) -- (942,372) -- (925,390) -- (925,0 |- av.north);
\draw[conn] (ct.east |- 0,250) -- (606,250) -- (615,242) -- (793,242) -- (800,247) -- (fi.west |- 0,247);
\draw[conn] (149,0 |- er.north) -- (149,215) -- (156,209) -- (200,203) -- (360,203) -- (372,190) -- (402,183) -- (em.west |- 0,183);
\draw[conn] (359,0 |- ct.north) -- (359,228) -- (375,212) -- (375,195) -- (389,186) -- (em.west |- 0,186);
\draw[conn] (283,0 |- eo.north) -- (283,283) -- (289,277) -- (447,277) -- (487,237) -- (487,0 |- em.south);
\draw[conn] (295,0 |- ev.north) -- (295,443) -- (310,428) -- (332,428) -- (338,420) -- (338,330) -- (390,280) -- (449,280) -- (491,237) -- (491,0 |- em.south);
\draw[conn] (ur.east |- 0,300.5) -- (eo.west |- 0,300.5);
\draw[conn] (83,0 |- ep.south) -- (83,0 |- ef.north);
\draw[conn] (ep.east |- 0,358) -- (eq.west |- 0,358);
\draw[conn] (ep.east |- 0,368) -- (160,368) -- (177,390) -- (es.west |- 0,394);
\draw[conn] (ef.east |- 0,429) -- (217,429) -- (230,443) -- (230,0 |- ev.north);
\draw[conn] (263,0 |- es.south) -- (263,0 |- ev.north);
\draw[conn] (87,0 |- ef.south) -- (87,0 |- et.north);
\draw[conn] (254,0 |- ev.south) -- (254,0 |- ed.north);
\draw[conn] (hw.east |- 0,546) -- (ed.west |- 0,546);
\draw[conn] (ed.east |- 0,546) -- (hr.west |- 0,546);
\draw[conn] (ev.east |- 0,476) -- (hj.west |- 0,476);
\draw[conn] (457,0 |- hj.north) -- (457,441) -- (513,441) -- (523,437) -- (523,390) -- (533,380) -- (638,273) -- (638,0 |- st.south);
\end{pgfonlayer}
\end{tikzpicture}
\end{document}
